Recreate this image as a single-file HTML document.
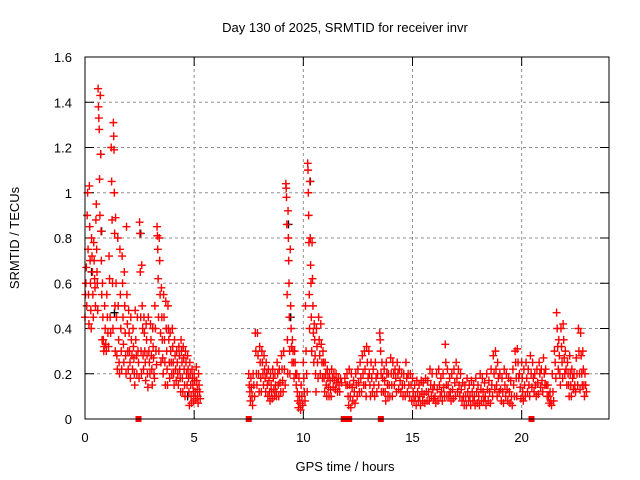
<!DOCTYPE html>
<html><head><meta charset="utf-8"><style>
html,body{margin:0;padding:0;background:#fff;}
svg{display:block;font-family:"Liberation Sans",sans-serif;}
</style></head><body>
<svg id="chart" width="640" height="480" viewBox="0 0 640 480" xmlns="http://www.w3.org/2000/svg">
<rect x="0" y="0" width="640" height="480" fill="#fff"/>
<g id="grid"></g>
<g id="ticks"></g>
<g id="black"></g>
<g id="red"></g>
<g id="marks"></g>
<rect x="85" y="57" width="524" height="362" fill="none" stroke="#000" stroke-width="1"/>
<text x="345" y="32" font-size="13" text-anchor="middle">Day 130 of 2025, SRMTID for receiver invr</text>
<text x="345" y="471" font-size="13" text-anchor="middle">GPS time / hours</text>
<text transform="translate(19,238) rotate(-90)" font-size="13" text-anchor="middle">SRMTID / TECUs</text>
</svg>
<script>
const xTicks=[0,5,10,15,20];
const yTicks=[0,0.2,0.4,0.6,0.8,1,1.2,1.4,1.6];
const yTickLabels=["0","0.2","0.4","0.6","0.8","1","1.2","1.4","1.6"];
const markTimes=[2.45,7.5,11.85,12.1,13.55,20.45];
const binTimes=[0,0.1,0.2,0.3,0.4,0.5,0.6,0.7,0.8,0.9,1.0,1.1,1.2,1.3,1.4,1.5,1.6,1.7,1.8,1.9,2.0,2.1,2.2,2.3,2.4,2.5,2.6,2.7,2.8,2.9,3.0,3.1,3.2,3.3,3.4,3.5,3.6,3.7,3.8,3.9,4.0,4.1,4.2,4.3,4.4,4.5,4.6,4.7,4.8,4.9,5.0,5.1,5.2,
7.5,7.6,7.7,7.8,7.9,8.0,8.1,8.2,8.3,8.4,8.5,8.6,8.7,8.8,8.9,9.0,9.1,9.2,9.3,9.4,9.5,9.6,9.7,9.8,9.9,10.0,10.1,10.2,10.3,10.4,10.5,10.6,10.7,10.8,10.9,11.0,11.1,11.2,11.3,11.4,11.5,11.6,11.7,11.9,12.0,12.1,12.2,12.3,12.4,12.5,12.6,12.7,12.8,12.9,13.0,13.1,13.2,13.3,13.4,13.5,13.6,13.7,13.8,13.9,14.0,14.1,14.2,14.3,14.4,14.5,14.6,14.7,14.8,14.9,15.0,15.1,15.2,15.3,15.4,15.5,15.6,15.7,15.8,15.9,16.0,16.1,16.2,16.3,16.4,16.5,16.6,16.7,16.8,16.9,17.0,17.1,17.2,17.3,17.4,17.5,17.6,17.7,17.8,17.9,18.0,18.1,18.2,18.3,18.4,18.5,18.6,18.7,18.8,18.9,19.0,19.1,19.2,19.3,19.4,19.5,19.6,19.7,19.8,19.9,20.0,20.1,20.2,20.3,20.4,20.5,20.6,20.7,20.8,20.9,21.0,21.1,21.2,21.3,21.4,21.5,21.6,21.7,21.8,21.9,22.0,22.1,22.2,22.3,22.4,22.5,22.6,22.7,22.8,22.9];
const binValues=[
[.45,.55,.6,.67,.5],[.9,1.0,.75,.55,.42],[1.03,.85,.7,.6,.48,.4],[.8,.72,.65,.55,.45],[.78,.7,.62,.58,.5],[.88,.95,.75,.65,.6,.48],[1.46,1.38,1.33,1.28,1.06,.9],[1.43,1.17,.83,.7,.55,.35],[.6,.45,.35,.3,.32],[.5,.4,.33,.3],[.55,.45,.38,.32],[.72,.62,.45,.38],[1.2,1.05,.88,.6,.4],[1.31,1.25,1.19,1.0,.82,.5,.3],[.89,.6,.45,.28,.22],[.8,.5,.35,.25,.2],[.75,.55,.4,.3,.22],[.72,.6,.45,.33,.25],[.65,.5,.38,.28,.2],[.85,.55,.42,.3,.22],[.48,.38,.3,.25,.18],[.45,.35,.28,.22],[.4,.32,.27,.2,.15],[.48,.35,.28,.2],[.45,.3,.25,.18],[.87,.82,.65,.45,.3,.2],[.68,.5,.4,.28,.22],[.45,.38,.3,.25,.17],[.42,.35,.28,.2,.14],[.45,.3,.25,.2],[.42,.35,.28,.22,.15],[.4,.32,.27,.2,.18],[.5,.4,.3,.24],[.85,.81,.75,.62,.45,.3],[.8,.7,.55,.38,.25],[.58,.45,.35,.27,.2],[.55,.45,.35,.25,.15],[.52,.4,.3,.22,.15],[.5,.4,.35,.25,.18],[.38,.3,.25,.2],[.4,.32,.25,.2,.15],[.35,.28,.22,.17],[.3,.25,.2,.15],[.32,.28,.22,.18,.12],[.35,.3,.25,.18,.12],[.32,.27,.22,.15,.1],[.3,.25,.2,.15],[.28,.22,.18,.12,.06],[.25,.2,.15,.1,.07],[.22,.18,.15,.12,.08],[.2,.17,.12,.09],[.23,.17,.13,.1,.07],[.2,.15,.12,.09],
[.2,.15,.12,.08],[.18,.14,.1,.06],[.2,.15,.1],[.38,.3,.2,.15],[.38,.28,.2,.12],[.32,.25,.18,.12],[.3,.25,.2,.15],[.28,.22,.18,.12],[.25,.2,.15,.1],[.22,.17,.12,.08],[.2,.15,.12,.09],[.22,.18,.13,.1],[.2,.15,.12,.1],[.25,.2,.15,.1],[.22,.16,.12],[.28,.22,.17,.12],[.3,.22,.15],[1.04,1.02,.98,.86,.55,.35,.2],[.92,.8,.7,.6,.45,.3,.2],[.75,.5,.4,.32,.25],[.35,.3,.25,.18],[.3,.25,.2,.15],[.2,.12,.08,.05],[.18,.1,.07,.04],[.15,.1,.06],[.25,.18,.12,.08],[.5,.3,.2,.12],[1.13,1.1,1.0,.9,.78,.55,.4],[1.05,.8,.68,.6,.45,.3],[.78,.62,.5,.38,.25],[.42,.35,.28,.2,.12],[.4,.32,.25,.18],[.45,.35,.28,.2],[.42,.33,.25,.18],[.3,.25,.18,.12],[.25,.2,.15,.1],[.22,.18,.14,.1],[.2,.17,.13,.1],[.22,.18,.14],[.2,.17,.13],[.2,.16,.12],[.18,.15,.12],[.18,.16],[.18,.15],[.2,.15,.1,.06],[.22,.15,.1,.05],[.2,.14,.08],[.17,.12,.07],[.2,.15,.1],[.22,.16,.12],[.25,.18,.12],[.28,.2,.15],[.3,.22,.15,.1],[.32,.25,.18],[.3,.2,.15,.1],[.25,.18,.12],[.22,.15,.1],[.25,.18,.12],[.2,.15],[.38,.35,.3,.2,.12],[.25,.18,.12],[.22,.17,.12,.08],[.25,.2,.15,.1],[.2,.15,.1],[.27,.2,.15,.1],[.25,.2,.15],[.22,.18,.12],[.25,.2,.13],[.22,.17,.12],[.2,.15,.1],[.2,.15,.1],[.25,.18,.12],[.2,.15,.1],[.2,.15,.08],[.18,.12,.08],[.15,.1,.06],[.17,.12,.08],[.15,.1,.06],[.17,.12,.08],[.16,.11,.07],[.18,.12,.08],[.17,.12,.08],[.22,.15,.1],[.2,.13,.09],[.15,.1,.07],[.2,.13,.08],[.22,.15,.1],[.18,.12,.08],[.2,.14,.1],[.33,.25,.15,.1],[.22,.15,.1],[.18,.12,.08],[.2,.13,.09],[.22,.16,.1],[.25,.18,.12],[.22,.15,.1],[.2,.13,.08],[.16,.1,.06],[.15,.1,.06],[.18,.12,.08],[.15,.1,.06],[.17,.12,.08],[.15,.1,.06],[.18,.12,.07],[.15,.1,.06],[.2,.13,.08],[.18,.12,.08],[.16,.1,.06],[.2,.13,.08],[.17,.12,.07],[.22,.15,.1],[.28,.2,.13],[.3,.22,.15,.1],[.25,.18,.12],[.2,.13,.08],[.18,.12,.07],[.22,.15,.1],[.2,.13,.08],[.18,.12,.07],[.17,.1,.06],[.22,.15,.1],[.3,.25,.18,.1],[.31,.25,.18],[.2,.14,.09],[.25,.18,.12,.08],[.22,.15,.1],[.25,.18,.12],[.22,.15,.1],[.28,.2,.14],[.25,.18,.12],[.2,.15,.1],[.22,.16,.11],[.25,.2,.14],[.22,.17,.12],[.27,.2,.15],[.22,.15,.1],[.15,.1,.07],[.12,.08,.06],[.2,.12,.08],[.3,.25,.18],[.47,.4,.32,.22],[.35,.28,.2,.15],[.4,.32,.25,.18],[.42,.35,.27,.2],[.3,.22,.15],[.25,.2,.15,.1],[.28,.2,.15,.1],[.22,.18,.13],[.2,.15,.12],[.27,.2,.15],[.4,.3,.2,.13],[.38,.28,.2,.15],[.3,.22,.15,.1],[.2,.15,.12]];
const blackTimes=[0.3,0.72,0.76,9.32,9.42,10.32,4.7,2.55,1.35];
const blackValues=[0.65,1.17,0.83,0.86,0.45,1.05,0.1,0.82,0.47];

const X0=85,X1=609,Y0=419,Y1=57,XMAX=24,YMAX=1.6;
const sx=t=>X0+t/XMAX*(X1-X0);
const sy=v=>Y0-v/YMAX*(Y0-Y1);
const NS="http://www.w3.org/2000/svg";
function mk(tag,parent,attrs){const e=document.createElementNS(NS,tag);for(const k in attrs)e.setAttribute(k,attrs[k]);parent.appendChild(e);return e;}
const grid=document.getElementById('grid'),ticks=document.getElementById('ticks');
yTicks.forEach((v,i)=>{const y=sy(v);
 if(i>0&&i<yTicks.length-1){const g=mk('line',grid,{x1:X0,x2:X1,y1:y,y2:y,stroke:'#909090','stroke-dasharray':'3,3'});
 
 }
 mk('line',ticks,{x1:X0,x2:X0+9,y1:y,y2:y,stroke:'#000'});
 mk('line',ticks,{x1:X1-9,x2:X1,y1:y,y2:y,stroke:'#000'});
 const t=mk('text',ticks,{x:X0-13,y:y+5,'font-size':'13','text-anchor':'end'});t.textContent=yTickLabels[i];
 
 
});
xTicks.forEach(v=>{const x=sx(v);
 if(v>0){const g=mk('line',grid,{x1:x,x2:x,y1:Y1,y2:Y0,stroke:'#909090','stroke-dasharray':'3,3'});
 
 }
 mk('line',ticks,{x1:x,x2:x,y1:Y0,y2:Y0-9,stroke:'#000'});
 mk('line',ticks,{x1:x,x2:x,y1:Y1,y2:Y1+9,stroke:'#000'});
 const t=mk('text',ticks,{x:x,y:Y0+23,'font-size':'13','text-anchor':'middle'});t.textContent=String(v);
 
 
});
function plus(parent,x,y,col){const p=mk('path',parent,{d:`M${x-4},${y}h8M${x},${y-4}v8`,stroke:col,'stroke-width':'1.4',fill:'none'});return p;}
const red=document.getElementById('red'),black=document.getElementById('black');
binTimes.forEach((t,i)=>{const vals=binValues[i];const n=vals.length;
 vals.forEach((v,j)=>{const p=plus(red,sx(t+0.1*j/n),sy(v),'#f00');
 
 });
});
blackTimes.forEach((t,i)=>{const p=plus(black,sx(t),sy(blackValues[i]),'#000');
 
 });
const marks=document.getElementById('marks');
markTimes.forEach(t=>{const r=mk('rect',marks,{x:sx(t)-3,y:Y0-3,width:6,height:6,fill:'#f00'});
 
 });
</script>
</body></html>
